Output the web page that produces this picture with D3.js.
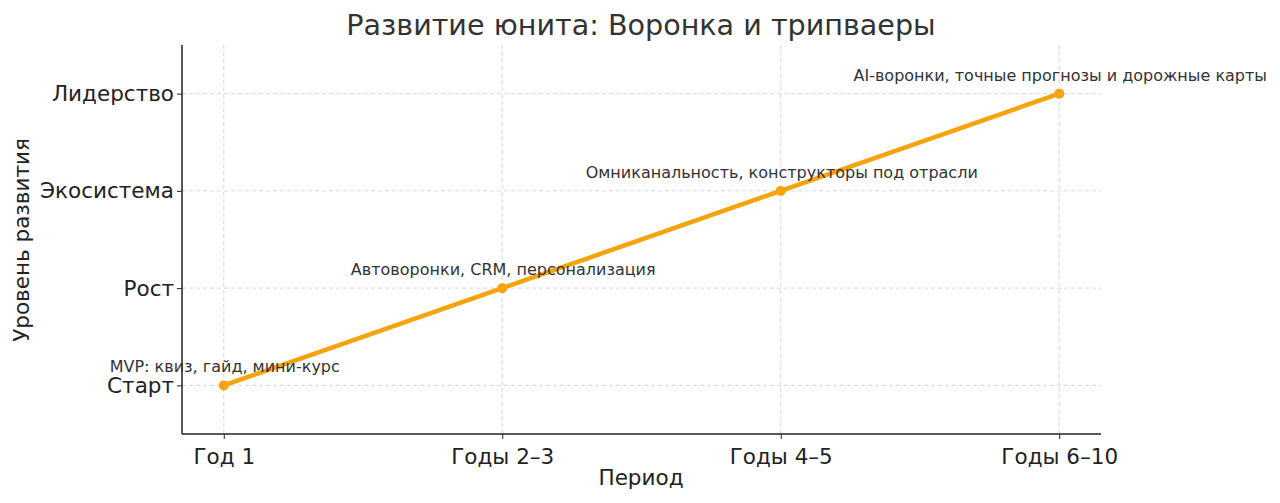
<!DOCTYPE html>
<html><head><meta charset="utf-8">
<script src="https://cdn.jsdelivr.net/npm/d3@7"></script>
<style>body{margin:0;background:#fff;font-family:"DejaVu Sans",sans-serif}</style>
</head><body><svg id="c" width="1280" height="503"></svg>
<script>
const periods = ["Год 1","Годы 2–3","Годы 4–5","Годы 6–10"];
const levels = ["Старт","Рост","Экосистема","Лидерство"];
const values = [0,1,2,3];
const notes = ["MVP: квиз, гайд, мини-курс","Автоворонки, CRM, персонализация","Омниканальность, конструкторы под отрасли","AI-воронки, точные прогнозы и дорожные карты"];

const svg = d3.select("#c");
const L=182,R=1101,T=45,B=434;
const x = d3.scaleLinear().domain([-0.15,3.15]).range([L,R]);
const y = d3.scaleLinear().domain([-0.5,3.5]).range([B,T]);
const g = svg.append("g");
g.selectAll(".gx").data(values).join("line").attr("x1",d=>x(d)).attr("x2",d=>x(d)).attr("y1",T).attr("y2",B)
 .attr("stroke","#ccc").attr("stroke-dasharray","4,3").attr("stroke-width",0.8);
g.selectAll(".gy").data(values).join("line").attr("y1",d=>y(d)).attr("y2",d=>y(d)).attr("x1",L).attr("x2",R)
 .attr("stroke","#ccc").attr("stroke-dasharray","4,3").attr("stroke-width",0.8);
const xa = svg.append("g").attr("transform",`translate(0,${B})`)
 .call(d3.axisBottom(x).tickValues(values).tickFormat(i=>periods[i]).tickSize(5).tickSizeOuter(0));
const ya = svg.append("g").attr("transform",`translate(${L},0)`)
 .call(d3.axisLeft(y).tickValues(values).tickFormat(i=>levels[i]).tickSize(5).tickSizeOuter(0));
[xa,ya].forEach(a=>{a.selectAll("text").attr("font-size",21.5).attr("fill","#222").attr("font-family","DejaVu Sans");
 a.select(".domain").attr("stroke","#222").attr("stroke-width",1.5);a.selectAll(".tick line").attr("stroke","#222");});
xa.selectAll("text").attr("dy","1.0em");
xa.select(".domain").attr("d",`M${L},0H${R}`);
ya.select(".domain").attr("d",`M0,${B}V${T}`);
const pts = values.map((v,i)=>[x(i),y(v)]);
svg.append("path").attr("d",d3.line()(pts)).attr("fill","none").attr("stroke","#f8a30c").attr("stroke-width",4.5);
svg.selectAll(".dot").data(pts).join("circle").attr("cx",d=>d[0]).attr("cy",d=>d[1]).attr("r",5).attr("fill","#f8a30c");
svg.selectAll(".note").data(notes).join("text").attr("x",(d,i)=>x(i)+1).attr("y",(d,i)=>y(values[i])-13)
 .attr("text-anchor","middle").attr("font-size",16).attr("fill","#333").text(d=>d);
svg.append("text").attr("x",641).attr("y",35).attr("text-anchor","middle").attr("font-size",28.6).attr("fill","#333").text("Развитие юнита: Воронка и трипваеры");
svg.append("text").attr("x",641).attr("y",485).attr("text-anchor","middle").attr("font-size",21.5).attr("fill","#222").text("Период");
svg.append("text").attr("transform","translate(29,240) rotate(-90)").attr("text-anchor","middle").attr("font-size",21.5).attr("fill","#222").text("Уровень развития");
</script></body></html>
